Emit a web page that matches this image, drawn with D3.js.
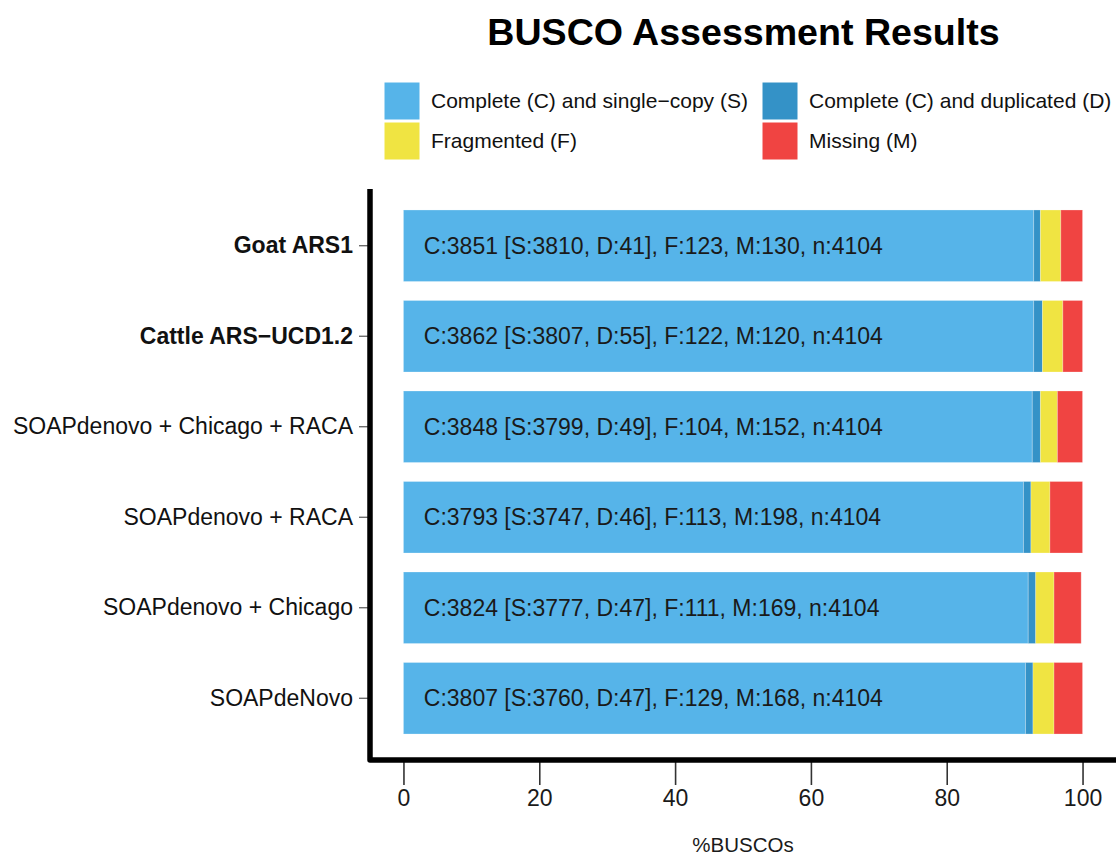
<!DOCTYPE html>
<html>
<head>
<meta charset="utf-8">
<script src="https://cdn.jsdelivr.net/npm/d3@7"></script>
<style>
	body { margin: 0; background: #ffffff; }
	svg { display: block; font-family: "Liberation Sans", Arial, sans-serif; }
</style>
</head>
<body>
<script>
'use strict';

// Assemblies, top to bottom as they appear on the chart.
const assemblies = [
	"Goat ARS1",
	"Cattle ARS\u2212UCD1.2",
	"SOAPdenovo + Chicago + RACA",
	"SOAPdenovo + RACA",
	"SOAPdenovo + Chicago",
	"SOAPdeNovo"
];
const boldAssemblies = ["Goat ARS1", "Cattle ARS\u2212UCD1.2"];

// Raw BUSCO counts (printed inside each bar).
const completeCounts   = [3851, 3862, 3848, 3793, 3824, 3807];
const singleCounts     = [3810, 3807, 3799, 3747, 3777, 3760];
const duplicatedCounts = [41, 55, 49, 46, 47, 47];
const fragmentedCounts = [123, 122, 104, 113, 111, 129];
const missingCounts    = [130, 120, 152, 198, 169, 168];
const totalCount = 4104;

// Percentages as drawn (bar segment widths).
const pctSingle     = [92.8, 92.8, 92.6, 91.3, 92.0, 91.6];
const pctDuplicated = [1.0, 1.3, 1.2, 1.1, 1.1, 1.1];
const pctFragmented = [3.0, 3.0, 2.5, 2.8, 2.7, 3.1];
const pctMissing    = [3.2, 2.9, 3.7, 4.8, 4.0, 4.2];

const categoryKeys = ["S", "D", "F", "M"];
const categoryNames = [
	"Complete (C) and single\u2212copy (S)",
	"Complete (C) and duplicated (D)",
	"Fragmented (F)",
	"Missing (M)"
];
const categoryColours = ["#56B4E9", "#3492C7", "#F0E442", "#F04442"];
const xTicks = [0, 20, 40, 60, 80, 100];

class BuscoChart
{
	constructor(width, height)
	{
		this.width = width;
		this.height = height;
		this.svg = d3.select("body").append("svg")
			.attr("width", width)
			.attr("height", height);

		// Panel edges (the axis lines sit on the left and bottom ones).
		this.panel = { left: 369.5, right: 1116.5, top: 189, bottom: 760 };

		this.SetupScales();
		this.DrawTitle();
		this.DrawLegend();
		this.DrawBars();
		this.DrawAxes();
	}

	SetupScales()
	{
		// ggplot pads a continuous axis by 5% on each side.
		this.x = d3.scaleLinear()
			.domain([-5, 105])
			.range([this.panel.left, this.panel.right]);

		this.y = d3.scaleBand()
			.domain(assemblies)
			.range([186, 758])
			.paddingInner(0.21)
			.paddingOuter(0.265);

		this.colour = d3.scaleOrdinal()
			.domain(categoryKeys)
			.range(categoryColours);
	}

	DrawTitle()
	{
		this.svg.append("text")
			.attr("x", 743.5)
			.attr("y", 45)
			.attr("text-anchor", "middle")
			.attr("font-size", 37.6)
			.attr("font-weight", "bold")
			.attr("fill", "#000")
			.text("BUSCO Assessment Results");
	}

	DrawLegend()
	{
		let colX = [384, 762];
		let rowY = [82, 122];
		let items = this.svg.append("g").attr("class", "legend")
			.selectAll("g")
			.data(categoryKeys)
			.enter()
			.append("g")
			.attr("transform", function(d, i) {
				return "translate(" + colX[i % 2] + "," + rowY[Math.floor(i / 2)] + ")";
			});

		items.append("rect")
			.attr("width", 36)
			.attr("height", 38)
			.attr("fill", d => this.colour(d))
			.attr("stroke", "#ffffff")
			.attr("stroke-width", 1);

		items.append("text")
			.attr("x", 47)
			.attr("y", 19)
			.attr("dy", "0.35em")
			.attr("font-size", 21)
			.attr("fill", "#111")
			.text((d, i) => categoryNames[i]);
	}

	DrawBars()
	{
		// Build a table for d3.stack from the named arrays.
		let table = assemblies.map(function(name, i) {
			return { name: name, S: pctSingle[i], D: pctDuplicated[i], F: pctFragmented[i], M: pctMissing[i] };
		});
		let series = d3.stack().keys(categoryKeys)(table);

		let sThis = this;
		this.svg.append("g").attr("class", "bars")
			.selectAll("g")
			.data(series)
			.enter()
			.append("g")
			.attr("fill", d => this.colour(d.key))
			.selectAll("rect")
			.data(d => d)
			.enter()
			.append("rect")
			.attr("x", d => sThis.x(d[0]))
			.attr("width", d => sThis.x(d[1]) - sThis.x(d[0]))
			.attr("y", d => sThis.y(d.data.name))
			.attr("height", this.y.bandwidth())
			.attr("stroke", "#ffffff")
			.attr("stroke-opacity", 0.25)
			.attr("stroke-width", 1);

		// Summary string inside each bar.
		this.svg.append("g").attr("class", "bar-labels")
			.selectAll("text")
			.data(assemblies)
			.enter()
			.append("text")
			.attr("x", this.x(3))
			.attr("y", d => this.y(d) + this.y.bandwidth() / 2)
			.attr("dy", "0.35em")
			.attr("font-size", 23)
			.attr("fill", "#1a1a1a")
			.text(function(d, i) {
				return "C:" + completeCounts[i] + " [S:" + singleCounts[i] + ", D:" + duplicatedCounts[i]
					+ "], F:" + fragmentedCounts[i] + ", M:" + missingCounts[i] + ", n:" + totalCount;
			});
	}

	DrawAxes()
	{
		let p = this.panel;

		// Bottom axis ticks and labels.
		let xAxis = this.svg.append("g")
			.attr("transform", "translate(0," + p.bottom + ")")
			.call(d3.axisBottom(this.x).tickValues(xTicks).tickSize(25).tickPadding(5));
		xAxis.select(".domain").remove();
		xAxis.selectAll(".tick line").attr("stroke", "#333").attr("stroke-width", 1.6);
		xAxis.selectAll(".tick text")
			.attr("font-size", 23)
			.attr("font-family", "Liberation Sans, Arial, sans-serif")
			.attr("fill", "#1a1a1a");

		// Left axis ticks and assembly names.
		let yAxis = this.svg.append("g")
			.attr("transform", "translate(370,0)")
			.call(d3.axisLeft(this.y).tickSize(11).tickPadding(6));
		yAxis.select(".domain").remove();
		yAxis.selectAll(".tick line").attr("stroke", "#555").attr("stroke-width", 1.2);
		yAxis.selectAll(".tick text")
			.attr("font-size", 23)
			.attr("font-family", "Liberation Sans, Arial, sans-serif")
			.attr("fill", "#111")
			.attr("font-weight", d => boldAssemblies.includes(d) ? "bold" : "normal");

		// Thick axis lines drawn over the tick stubs.
		this.svg.append("path")
			.attr("d", "M370," + p.top + "V" + p.bottom + "H" + this.width)
			.attr("fill", "none")
			.attr("stroke", "#000")
			.attr("stroke-width", 5.5)
			.attr("stroke-linejoin", "round");

		// Axis title.
		this.svg.append("text")
			.attr("x", (p.left + p.right) / 2)
			.attr("y", 852)
			.attr("text-anchor", "middle")
			.attr("font-size", 20.5)
			.attr("fill", "#1a1a1a")
			.text("%BUSCOs");
	}
}

let chart = new BuscoChart(1116, 855);
</script>
</body>
</html>
